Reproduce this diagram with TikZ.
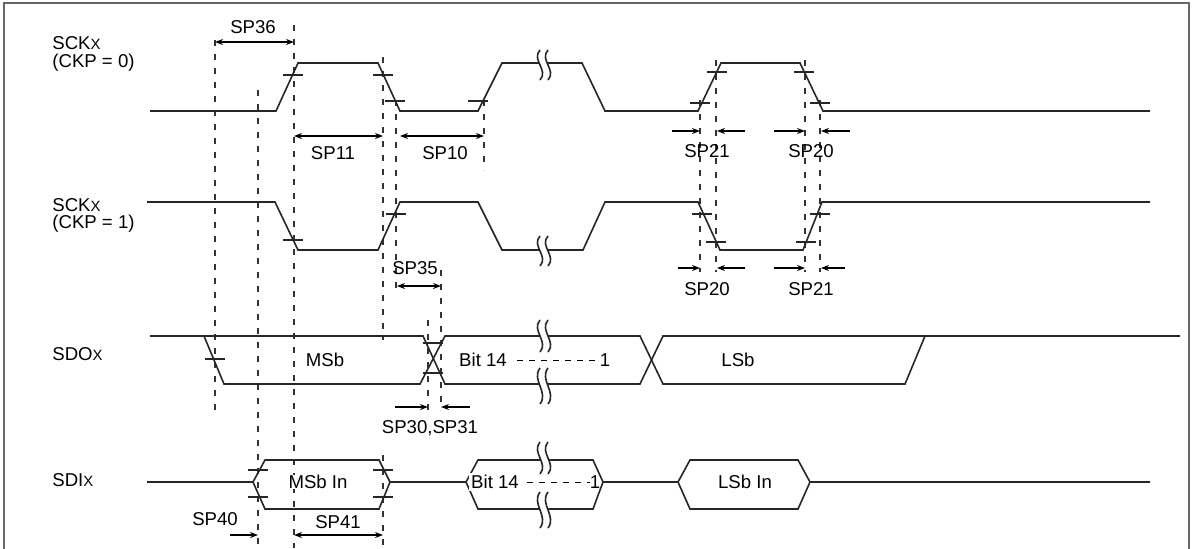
\documentclass[tikz,border=0pt]{standalone}
\usepackage{fontspec}
\setmainfont{Liberation Sans}
\usetikzlibrary{arrows.meta}
\newcommand\brk[3]{% x, ya, yb
 \fill[white] (#1,#2) .. controls (#1-9,#2+0.33*#3-0.33*#2) and (#1+9,#3-0.33*#3+0.33*#2) .. (#1,#3) -- (#1+8,#3) .. controls (#1+17,#3-0.33*#3+0.33*#2) and (#1-1,#2+0.33*#3-0.33*#2) .. (#1+8,#2) -- cycle;
 \draw[sig] (#1,#2) .. controls (#1-9,#2+0.33*#3-0.33*#2) and (#1+9,#3-0.33*#3+0.33*#2) .. (#1,#3);
 \draw[sig] (#1+8,#2) .. controls (#1-1,#2+0.33*#3-0.33*#2) and (#1+17,#3-0.33*#3+0.33*#2) .. (#1+8,#3);}
\newcommand\tk[2]{\draw[sig] (#1-10,#2) -- (#1+10,#2);}
\begin{document}
\begin{tikzpicture}[x=0.5pt,y=-0.5pt,
 sig/.style={line width=0.8pt,black!85},
 dot/.style={dash pattern=on 3pt off 4pt,line width=0.6pt,black!80},
 dim/.style={line width=0.7pt,-{Stealth[length=4pt]}},
 dd/.style={line width=0.7pt,{Stealth[length=4pt]}-{Stealth[length=4pt]}},
 lab/.style={font=\fontsize{9.3}{11}\selectfont,inner sep=0pt}]
\useasboundingbox (0,0) rectangle (1193,548);
\draw[line width=1pt,black!60] (4,560) -- (4,3) -- (1189,3) -- (1189,560);
% dotted verticals
\draw[dot] (215,40)--(215,410);
\draw[dot] (258,90)--(258,548);
\draw[dot] (294,25)--(294,548);
\draw[dot] (383,57)--(383,340);
\draw[dot] (396,100)--(396,290);
\draw[dot] (484,100)--(484,170);
\draw[dot] (441,270)--(441,410);
\draw[dot] (428,320)--(428,410);
\draw[dot] (383,455)--(383,548);
\draw[dot] (700,100)--(700,272);
\draw[dot] (716,60)--(716,272);
\draw[dot] (805,60)--(805,272);
\draw[dot] (820,100)--(820,272);
% SCK CKP=0
\draw[sig] (150,111)--(276,111)--(298,63)--(378,63)--(400,111)--(478,111)--(502,63)--(582,63)--(605,111)--(698,111)--(721,63)--(800,63)--(823,111)--(1150,111);
\brk{540}{50}{80}
\tk{293}{75}\tk{383}{75}\tk{395}{101}\tk{478}{101}
\tk{700}{103}\tk{717}{72}\tk{804}{72}\tk{820}{103}
% SCK CKP=1
\draw[sig] (147,202)--(275,202)--(298,250)--(378,250)--(400,202)--(478,202)--(502,250)--(583,250)--(605,202)--(698,202)--(720,250)--(803,250)--(822,202)--(1150,202);
\brk{540}{236}{266}
\tk{293}{240}\tk{396}{214}\tk{702}{214}\tk{716}{242}\tk{806}{242}\tk{820}{214}
% SDO
\draw[sig] (150,336)--(204,336)--(224,384)--(420,384)--(445,336)--(640,336)--(663,384)--(905,384)--(925,336);
\draw[sig] (204,336)--(423,336)--(445,384)--(640,384)--(663,336)--(1180,336);
\tk{215}{359}\tk{433}{343}\tk{433}{373}
\brk{540}{320}{352}\brk{540}{368}{404}
\draw[dashed,line width=0.5pt] (517,360)--(598,360);
\node[lab,fill=white] at (325,360) {MSb};
\node[lab,fill=white,inner sep=1pt] at (483,360) {Bit 14};
\node[lab] at (605,360) {1};
\node[lab] at (738,360) {LSb};
% SDI
\draw[sig] (147,482)--(253,482)--(265,460)--(379,460)--(390,482)--(466,482)--(478,460)--(593,460)--(603,482)--(678,482)--(690,460)--(798,460)--(810,482)--(1150,482);
\draw[sig] (253,482)--(265,509)--(379,509)--(390,482);
\draw[sig] (466,482)--(478,509)--(593,509)--(603,482);
\draw[sig] (678,482)--(690,509)--(798,509)--(810,482);
\tk{258}{470}\tk{258}{497}\tk{383}{470}\tk{383}{497}
\brk{540}{442}{474}\brk{540}{492}{528}
\draw[dashed,line width=0.5pt] (527,482)--(590,482);
\node[lab,fill=white] at (318,482) {MSb In};
\node[lab,fill=white,inner sep=1pt] at (495,482) {Bit 14};
\node[lab] at (595,482) {1};
\node[lab] at (745,482) {LSb In};
% signal names
\node[lab,anchor=west] at (52,43) {SCK\scalebox{0.8}{X}};
\node[lab,anchor=west] at (52,63) {(CKP = 0)};
\node[lab,anchor=west] at (52,205) {SCK\scalebox{0.8}{X}};
\node[lab,anchor=west] at (52,224) {(CKP = 1)};
\node[lab,anchor=west] at (52,354) {SDO\scalebox{0.8}{X}};
\node[lab,anchor=west] at (52,480) {SDI\scalebox{0.8}{X}};
% dimensions
\draw[dd] (215,42)--(294,42); \node[lab] at (253,27) {SP36};
\draw[dd] (294,136)--(383,136); \node[lab] at (333,153) {SP11};
\draw[dd] (400,136)--(484,136); \node[lab] at (445,153) {SP10};
\draw[dim] (672,131)--(700,131); \draw[dim] (745,131)--(717,131); \node[lab] at (707,151) {SP21};
\draw[dim] (774,131)--(805,131); \draw[dim] (850,131)--(821,131); \node[lab] at (811,151) {SP20};
\draw[dim] (678,268)--(700,268); \draw[dim] (745,268)--(717,268); \node[lab] at (707,289) {SP20};
\draw[dim] (774,268)--(805,268); \draw[dim] (845,268)--(821,268); \node[lab] at (811,289) {SP21};
\draw[dd] (397,286)--(441,286); \node[lab] at (415,268) {SP35};
\draw[dim] (395,407)--(428,407); \draw[dim] (470,407)--(441,407); \node[lab] at (430,428) {SP30,SP31};
\draw[dim] (230,535)--(258,535); \node[lab] at (215,519) {SP40};
\draw[dd] (294,535)--(383,535); \node[lab] at (338,522) {SP41};
\end{tikzpicture}
\end{document}
